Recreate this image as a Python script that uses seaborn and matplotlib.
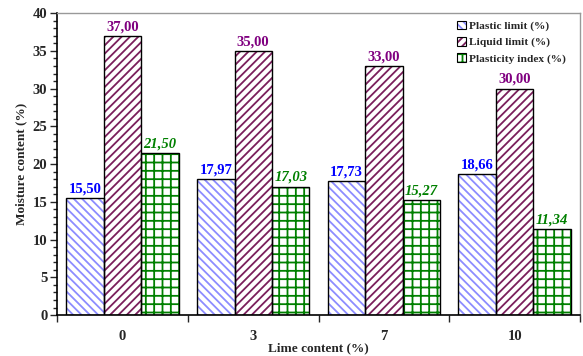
import numpy as np
import pandas as pd
import seaborn as sns
import matplotlib.pyplot as plt
from matplotlib.patches import Rectangle, Patch
from matplotlib.ticker import MultipleLocator, FixedLocator, NullFormatter, FixedFormatter

#%% data
lime = ['0', '3', '7', '10']
plastic = [15.50, 17.97, 17.73, 18.66]
liquid = [37.00, 35.00, 33.00, 30.00]
pindex = [21.50, 17.03, 15.27, 11.34]
series = ['Plastic limit (%)', 'Liquid limit (%)', 'Plasticity index (%)']

df = pd.DataFrame({'lime': lime * 3,
                   'value': plastic + liquid + pindex,
                   'series': np.repeat(series, len(lime))})

#%% style
sns.set_style('ticks')
plt.rcParams['font.family'] = ['Liberation Serif', 'DejaVu Serif']
plt.rcParams['font.weight'] = 'bold'
plt.rcParams['hatch.linewidth'] = 1.3

face = ['white', 'white', 'white']
hatch_col = ['#8c8cff', '#7a1f5c', '#008000']
hatches = ['\\\\\\\\', '////', '++']
lab_col = ['#0000ff', '#800080', '#008000']
lab_style = ['normal', 'normal', 'italic']

fig = plt.figure(figsize=(5.83, 3.56), dpi=100)
ax = fig.add_axes([0.098, 0.115, 0.897, 0.848])

sns.barplot(data=df, x='lime', y='value', hue='series', width=0.86, gap=0,
            legend=False, ax=ax, saturation=1)

for i, cont in enumerate(ax.containers):
    for bar in cont:
        bar.set_facecolor(face[i])
        bar.set_edgecolor(hatch_col[i])
        bar.set_hatch(hatches[i])
        bar.set_linewidth(0)
        ax.add_patch(Rectangle(bar.get_xy(), bar.get_width(), bar.get_height(),
                               fill=False, ec='black', lw=1.0, zorder=3))
    ax.bar_label(cont, labels=[f'{v:.2f}'.replace('.', ',') for v in cont.datavalues],
                 padding=2, color=lab_col[i], fontweight='bold',
                 fontstyle=lab_style[i], fontsize=10.5)

ax.set_ylim(0, 40)
ax.set_xlim(-0.5, 3.5)
ax.yaxis.set_major_locator(MultipleLocator(5))
ax.yaxis.set_minor_locator(MultipleLocator(1))
ax.tick_params(axis='y', which='major', length=5, width=1, labelsize=10.5, pad=2)
ax.tick_params(axis='y', which='minor', length=3, width=1)

ax.xaxis.set_major_locator(FixedLocator([-0.5, 0.5, 1.5, 2.5, 3.5]))
ax.xaxis.set_major_formatter(NullFormatter())
ax.xaxis.set_minor_locator(FixedLocator([0, 1, 2, 3]))
ax.xaxis.set_minor_formatter(FixedFormatter(lime))
ax.tick_params(axis='x', which='major', length=5, width=1)
ax.tick_params(axis='x', which='minor', length=0, labelsize=10.5, pad=11)

for s in ['left', 'bottom']:
    ax.spines[s].set_linewidth(1.2)
    ax.spines[s].set_color('black')
for s in ['top', 'right']:
    ax.spines[s].set_color('#999999')
    ax.spines[s].set_linewidth(1.0)

ax.set_xlabel('Lime content (%)', fontsize=9.5, fontweight='bold', labelpad=-1)
ax.set_ylabel('Moisture content (%)', fontsize=9.5, fontweight='bold', labelpad=4)

handles = []
for i in range(3):
    handles.append((Patch(facecolor=face[i], edgecolor=hatch_col[i], hatch=hatches[i], lw=0),
                    Patch(fill=False, edgecolor='black', lw=0.8)))
ax.legend(handles, series, loc='upper left', bbox_to_anchor=(0.752, 0.998),
          frameon=False, handlelength=0.8, handleheight=0.8,
          handletextpad=0.2, labelspacing=0.5, borderaxespad=0.2,
          prop={'weight': 'bold', 'size': 8.2})

plt.savefig('out.png', dpi=100)
